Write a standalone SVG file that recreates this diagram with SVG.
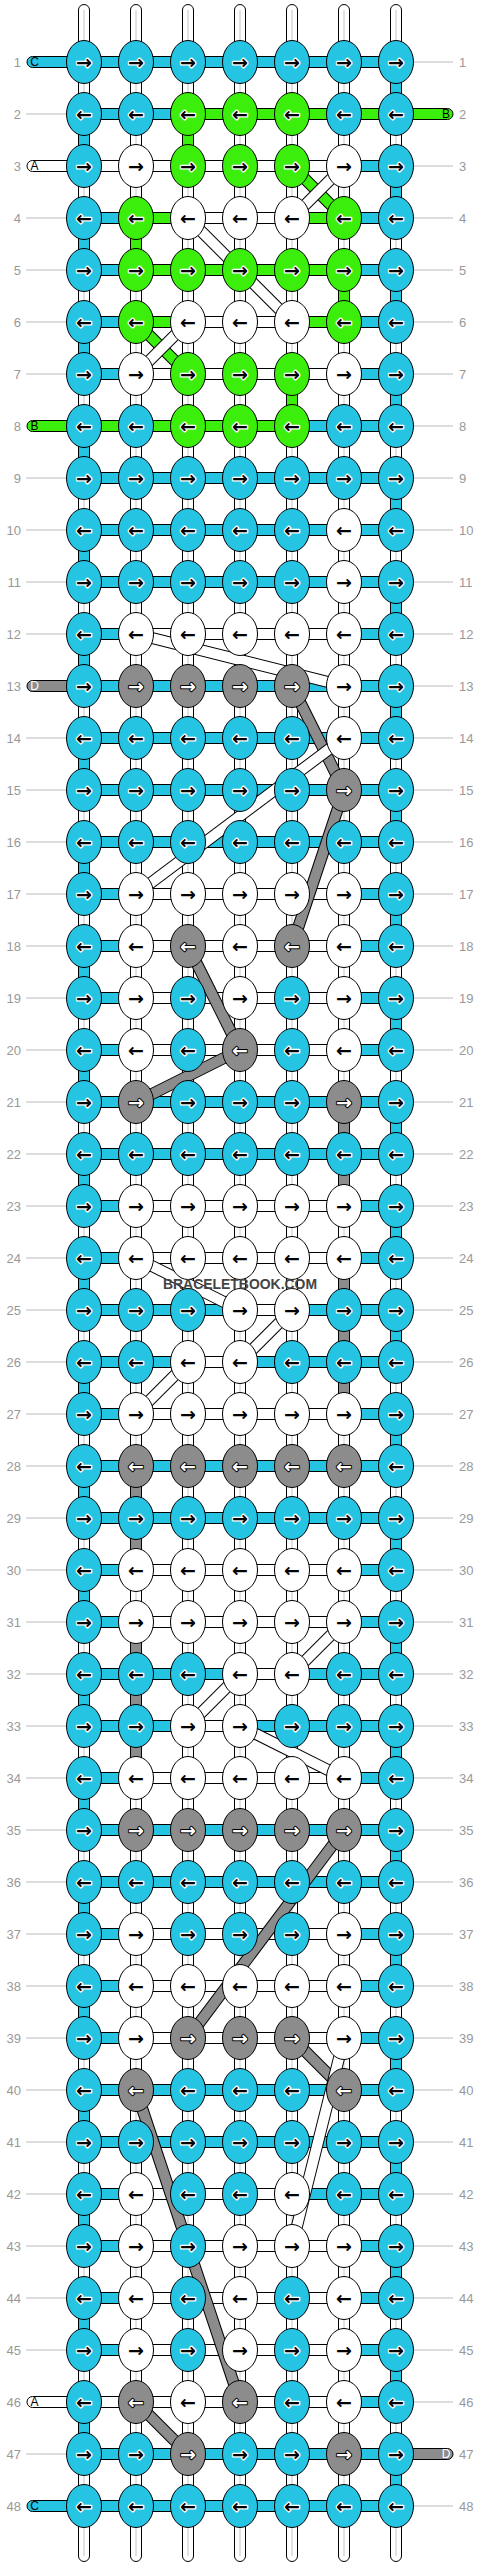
<svg xmlns="http://www.w3.org/2000/svg" width="480" height="2568" viewBox="0 0 480 2568">
<style>
.b{fill:#26c4e3}.w{fill:#fff}.g{fill:#3cee0c}.d{fill:#8c8c8c}
#connectors rect{stroke:#000;stroke-width:1px}
.v{width:11px;height:52px}
.h{height:11px}
.e{height:11px;width:60px}
.cl{stroke:#c4c4c4;stroke-width:1px}
.rl{stroke:#bbb;stroke-width:1px;fill:none}
.o{stroke:#000;stroke-width:12px}
.lw{stroke:#fff;stroke-width:10px}
.lg{stroke:#3cee0c;stroke-width:10px}
.ld{stroke:#8c8c8c;stroke-width:10px}
.k ellipse{rx:17.5px;ry:21.5px;stroke:#000;stroke-width:1px}
.k text{font-family:"DejaVu Sans",sans-serif;font-weight:bold;font-size:19px;text-anchor:middle;dominant-baseline:central;fill:#000;stroke:#fff;stroke-width:2.5px;paint-order:stroke;stroke-linejoin:round}
.k.w text{stroke:none}
.k.d text{fill:#fff;stroke:#000;stroke-width:2px}
.num text{font-family:"Liberation Sans",Arial,sans-serif;font-size:13px;fill:#999}
.nl text{text-anchor:end}
.el text{font-family:"Liberation Sans",Arial,sans-serif;font-size:12px;text-anchor:middle;fill:#000}
.el text.wt{fill:#fff}
.wm{font-family:"Liberation Sans",Arial,sans-serif;font-weight:bold;font-size:15px;fill:#444;text-anchor:middle}
</style>
<g id="connectors">
<g id="columns">
<rect class="w" x="78.5" y="4.5" width="11" height="2557" rx="5.5"/><rect class="w" x="130.5" y="4.5" width="11" height="2557" rx="5.5"/><rect class="w" x="182.5" y="4.5" width="11" height="2557" rx="5.5"/><rect class="w" x="234.5" y="4.5" width="11" height="2557" rx="5.5"/><rect class="w" x="286.5" y="4.5" width="11" height="2557" rx="5.5"/><rect class="w" x="338.5" y="4.5" width="11" height="2557" rx="5.5"/><rect class="w" x="390.5" y="4.5" width="11" height="2557" rx="5.5"/>
<path class="cl" d="M84 10V2556M136 10V2556M188 10V2556M240 10V2556M292 10V2556M344 10V2556M396 10V2556"/>
</g>
<path class="rl" d="M26 114H67M26 218H67M26 270H67M26 322H67M26 374H67M26 478H67M26 530H67M26 582H67M26 634H67M26 738H67M26 790H67M26 842H67M26 894H67M26 946H67M26 998H67M26 1050H67M26 1102H67M26 1154H67M26 1206H67M26 1258H67M26 1310H67M26 1362H67M26 1414H67M26 1466H67M26 1518H67M26 1570H67M26 1622H67M26 1674H67M26 1726H67M26 1778H67M26 1830H67M26 1882H67M26 1934H67M26 1986H67M26 2038H67M26 2090H67M26 2142H67M26 2194H67M26 2246H67M26 2298H67M26 2350H67M26 2454H67M413 62H453M413 166H453M413 218H453M413 270H453M413 322H453M413 374H453M413 426H453M413 478H453M413 530H453M413 582H453M413 634H453M413 686H453M413 738H453M413 790H453M413 842H453M413 894H453M413 946H453M413 998H453M413 1050H453M413 1102H453M413 1154H453M413 1206H453M413 1258H453M413 1310H453M413 1362H453M413 1414H453M413 1466H453M413 1518H453M413 1570H453M413 1622H453M413 1674H453M413 1726H453M413 1778H453M413 1830H453M413 1882H453M413 1934H453M413 1986H453M413 2038H453M413 2090H453M413 2142H453M413 2194H453M413 2246H453M413 2298H453M413 2350H453M413 2402H453M413 2506H453"/>
<g id="verticals">
<rect class="v b" x="390.5" y="62"/>
<rect class="v b" x="78.5" y="114"/><rect class="v g" x="182.5" y="114"/>
<rect class="v b" x="390.5" y="166"/>
<rect class="v b" x="78.5" y="218"/><rect class="v g" x="130.5" y="218"/>
<rect class="v g" x="338.5" y="270"/><rect class="v b" x="390.5" y="270"/>
<rect class="v b" x="78.5" y="322"/>
<rect class="v g" x="286.5" y="374"/><rect class="v b" x="390.5" y="374"/>
<rect class="v b" x="78.5" y="426"/>
<rect class="v b" x="390.5" y="478"/>
<rect class="v b" x="78.5" y="530"/>
<rect class="v b" x="390.5" y="582"/>
<rect class="v b" x="78.5" y="634"/>
<rect class="v b" x="390.5" y="686"/>
<rect class="v b" x="78.5" y="738"/>
<rect class="v b" x="390.5" y="790"/>
<rect class="v b" x="78.5" y="842"/>
<rect class="v b" x="390.5" y="894"/>
<rect class="v b" x="78.5" y="946"/>
<rect class="v b" x="390.5" y="998"/>
<rect class="v b" x="78.5" y="1050"/>
<rect class="v d" x="338.5" y="1102"/><rect class="v b" x="390.5" y="1102"/>
<rect class="v b" x="78.5" y="1154"/><rect class="v d" x="338.5" y="1154"/>
<rect class="v b" x="390.5" y="1206"/>
<rect class="v b" x="78.5" y="1258"/><rect class="v d" x="338.5" y="1258"/>
<rect class="v d" x="338.5" y="1310"/><rect class="v b" x="390.5" y="1310"/>
<rect class="v b" x="78.5" y="1362"/><rect class="v d" x="338.5" y="1362"/>
<rect class="v b" x="390.5" y="1414"/>
<rect class="v b" x="78.5" y="1466"/><rect class="v d" x="130.5" y="1466"/>
<rect class="v d" x="130.5" y="1518"/><rect class="v b" x="390.5" y="1518"/>
<rect class="v b" x="78.5" y="1570"/>
<rect class="v d" x="130.5" y="1622"/><rect class="v b" x="390.5" y="1622"/>
<rect class="v b" x="78.5" y="1674"/><rect class="v d" x="130.5" y="1674"/>
<rect class="v d" x="130.5" y="1726"/><rect class="v b" x="390.5" y="1726"/>
<rect class="v b" x="78.5" y="1778"/>
<rect class="v b" x="390.5" y="1830"/>
<rect class="v b" x="78.5" y="1882"/>
<rect class="v b" x="390.5" y="1934"/>
<rect class="v b" x="78.5" y="1986"/>
<rect class="v b" x="390.5" y="2038"/>
<rect class="v b" x="78.5" y="2090"/>
<rect class="v b" x="390.5" y="2142"/>
<rect class="v b" x="78.5" y="2194"/>
<rect class="v b" x="390.5" y="2246"/>
<rect class="v b" x="78.5" y="2298"/>
<rect class="v b" x="390.5" y="2350"/>
<rect class="v b" x="78.5" y="2402"/>
<rect class="v b" x="390.5" y="2454"/>
</g>
<g id="ends">
<rect class="e b" x="27" y="56.5" rx="5.5"/>
<rect class="e w" x="27" y="160.5" rx="5.5"/>
<rect class="e g" x="27" y="420.5" rx="5.5"/>
<rect class="e d" x="27" y="680.5" rx="5.5"/>
<rect class="e w" x="27" y="2396.5" rx="5.5"/>
<rect class="e b" x="27" y="2500.5" rx="5.5"/>
<rect class="e g" x="393" y="108.5" rx="5.5"/>
<rect class="e d" x="393" y="2448.5" rx="5.5"/>
</g>
<g id="horizontals">
<rect class="h b" x="84" y="56.5" width="312"/>
<rect class="h b" x="84" y="108.5" width="312"/><rect class="h g" x="188" y="108.5" width="208"/>
<rect class="h w" x="84" y="160.5" width="312"/><rect class="h b" x="344" y="160.5" width="52"/>
<rect class="h b" x="84" y="212.5" width="312"/><rect class="h g" x="136" y="212.5" width="208"/><rect class="h w" x="188" y="212.5" width="104"/>
<rect class="h b" x="84" y="264.5" width="312"/><rect class="h g" x="136" y="264.5" width="208"/>
<rect class="h b" x="84" y="316.5" width="312"/><rect class="h g" x="136" y="316.5" width="208"/><rect class="h w" x="188" y="316.5" width="104"/>
<rect class="h b" x="84" y="368.5" width="312"/><rect class="h w" x="136" y="368.5" width="208"/>
<rect class="h b" x="84" y="420.5" width="312"/><rect class="h g" x="84" y="420.5" width="208"/>
<rect class="h b" x="84" y="472.5" width="312"/>
<rect class="h b" x="84" y="524.5" width="312"/>
<rect class="h b" x="84" y="576.5" width="312"/>
<rect class="h b" x="84" y="628.5" width="312"/><rect class="h w" x="136" y="628.5" width="208"/>
<rect class="h b" x="84" y="680.5" width="312"/>
<rect class="h b" x="84" y="732.5" width="312"/>
<rect class="h b" x="84" y="784.5" width="312"/>
<rect class="h b" x="84" y="836.5" width="312"/>
<rect class="h b" x="84" y="888.5" width="312"/><rect class="h w" x="136" y="888.5" width="208"/>
<rect class="h b" x="84" y="940.5" width="312"/><rect class="h w" x="136" y="940.5" width="208"/>
<rect class="h b" x="84" y="992.5" width="312"/><rect class="h w" x="136" y="992.5" width="208"/>
<rect class="h b" x="84" y="1044.5" width="312"/><rect class="h w" x="136" y="1044.5" width="208"/>
<rect class="h b" x="84" y="1096.5" width="312"/>
<rect class="h b" x="84" y="1148.5" width="312"/>
<rect class="h b" x="84" y="1200.5" width="312"/><rect class="h w" x="136" y="1200.5" width="208"/>
<rect class="h b" x="84" y="1252.5" width="312"/><rect class="h w" x="136" y="1252.5" width="208"/>
<rect class="h b" x="84" y="1304.5" width="312"/><rect class="h w" x="240" y="1304.5" width="52"/>
<rect class="h b" x="84" y="1356.5" width="312"/><rect class="h w" x="188" y="1356.5" width="52"/>
<rect class="h b" x="84" y="1408.5" width="312"/><rect class="h w" x="136" y="1408.5" width="208"/>
<rect class="h b" x="84" y="1460.5" width="312"/>
<rect class="h b" x="84" y="1512.5" width="312"/>
<rect class="h b" x="84" y="1564.5" width="312"/><rect class="h w" x="136" y="1564.5" width="208"/>
<rect class="h b" x="84" y="1616.5" width="312"/><rect class="h w" x="136" y="1616.5" width="208"/>
<rect class="h b" x="84" y="1668.5" width="312"/><rect class="h w" x="240" y="1668.5" width="52"/>
<rect class="h b" x="84" y="1720.5" width="312"/><rect class="h w" x="188" y="1720.5" width="52"/>
<rect class="h b" x="84" y="1772.5" width="312"/><rect class="h w" x="136" y="1772.5" width="208"/>
<rect class="h b" x="84" y="1824.5" width="312"/>
<rect class="h b" x="84" y="1876.5" width="312"/>
<rect class="h b" x="84" y="1928.5" width="312"/><rect class="h w" x="136" y="1928.5" width="208"/>
<rect class="h b" x="84" y="1980.5" width="312"/><rect class="h w" x="136" y="1980.5" width="208"/>
<rect class="h b" x="84" y="2032.5" width="312"/><rect class="h w" x="136" y="2032.5" width="208"/>
<rect class="h b" x="84" y="2084.5" width="312"/>
<rect class="h b" x="84" y="2136.5" width="312"/>
<rect class="h b" x="84" y="2188.5" width="312"/><rect class="h w" x="136" y="2188.5" width="156"/>
<rect class="h b" x="84" y="2240.5" width="312"/><rect class="h w" x="136" y="2240.5" width="208"/>
<rect class="h b" x="84" y="2292.5" width="312"/><rect class="h w" x="136" y="2292.5" width="208"/>
<rect class="h b" x="84" y="2344.5" width="312"/><rect class="h w" x="136" y="2344.5" width="208"/>
<rect class="h b" x="84" y="2396.5" width="312"/><rect class="h w" x="84" y="2396.5" width="260"/>
<rect class="h b" x="84" y="2448.5" width="312"/>
<rect class="h b" x="84" y="2500.5" width="312"/>
</g>
<g id="diagonals">
<line class="o" x1="292" y1="166" x2="344" y2="218"/><line class="lg" x1="292" y1="166" x2="344" y2="218"/>
<line class="o" x1="344" y1="166" x2="292" y2="218"/><line class="lw" x1="344" y1="166" x2="292" y2="218"/>
<line class="o" x1="188" y1="218" x2="240" y2="270"/><line class="lw" x1="188" y1="218" x2="240" y2="270"/>
<line class="o" x1="240" y1="270" x2="292" y2="322"/><line class="lw" x1="240" y1="270" x2="292" y2="322"/>
<line class="o" x1="136" y1="322" x2="188" y2="374"/><line class="lg" x1="136" y1="322" x2="188" y2="374"/>
<line class="o" x1="188" y1="322" x2="136" y2="374"/><line class="lw" x1="188" y1="322" x2="136" y2="374"/>
<line class="o" x1="136" y1="634" x2="344" y2="686"/><line class="lw" x1="136" y1="634" x2="344" y2="686"/>
<line class="o" x1="292" y1="686" x2="344" y2="790"/><line class="ld" x1="292" y1="686" x2="344" y2="790"/>
<line class="o" x1="344" y1="738" x2="136" y2="894"/><line class="lw" x1="344" y1="738" x2="136" y2="894"/>
<line class="o" x1="344" y1="790" x2="292" y2="946"/><line class="ld" x1="344" y1="790" x2="292" y2="946"/>
<line class="o" x1="188" y1="946" x2="240" y2="1050"/><line class="ld" x1="188" y1="946" x2="240" y2="1050"/>
<line class="o" x1="240" y1="1050" x2="136" y2="1102"/><line class="ld" x1="240" y1="1050" x2="136" y2="1102"/>
<line class="o" x1="136" y1="1258" x2="240" y2="1310"/><line class="lw" x1="136" y1="1258" x2="240" y2="1310"/>
<line class="o" x1="292" y1="1310" x2="240" y2="1362"/><line class="lw" x1="292" y1="1310" x2="240" y2="1362"/>
<line class="o" x1="188" y1="1362" x2="136" y2="1414"/><line class="lw" x1="188" y1="1362" x2="136" y2="1414"/>
<line class="o" x1="344" y1="1622" x2="292" y2="1674"/><line class="lw" x1="344" y1="1622" x2="292" y2="1674"/>
<line class="o" x1="240" y1="1674" x2="188" y2="1726"/><line class="lw" x1="240" y1="1674" x2="188" y2="1726"/>
<line class="o" x1="240" y1="1726" x2="344" y2="1778"/><line class="lw" x1="240" y1="1726" x2="344" y2="1778"/>
<line class="o" x1="344" y1="1830" x2="188" y2="2038"/><line class="ld" x1="344" y1="1830" x2="188" y2="2038"/>
<line class="o" x1="292" y1="2038" x2="344" y2="2090"/><line class="ld" x1="292" y1="2038" x2="344" y2="2090"/>
<line class="o" x1="344" y1="2038" x2="292" y2="2246"/><line class="lw" x1="344" y1="2038" x2="292" y2="2246"/>
<line class="o" x1="136" y1="2090" x2="240" y2="2402"/><line class="ld" x1="136" y1="2090" x2="240" y2="2402"/>
<line class="o" x1="136" y1="2402" x2="188" y2="2454"/><line class="ld" x1="136" y1="2402" x2="188" y2="2454"/>
</g>
</g>
<g id="knots">
<g id="k1-1" class="k b" transform="translate(84 62)"><ellipse/><text>→</text></g><g id="k1-2" class="k b" transform="translate(136 62)"><ellipse/><text>→</text></g><g id="k1-3" class="k b" transform="translate(188 62)"><ellipse/><text>→</text></g><g id="k1-4" class="k b" transform="translate(240 62)"><ellipse/><text>→</text></g><g id="k1-5" class="k b" transform="translate(292 62)"><ellipse/><text>→</text></g><g id="k1-6" class="k b" transform="translate(344 62)"><ellipse/><text>→</text></g><g id="k1-7" class="k b" transform="translate(396 62)"><ellipse/><text>→</text></g>
<g id="k2-1" class="k b" transform="translate(84 114)"><ellipse/><text>←</text></g><g id="k2-2" class="k b" transform="translate(136 114)"><ellipse/><text>←</text></g><g id="k2-3" class="k g" transform="translate(188 114)"><ellipse/><text>←</text></g><g id="k2-4" class="k g" transform="translate(240 114)"><ellipse/><text>←</text></g><g id="k2-5" class="k g" transform="translate(292 114)"><ellipse/><text>←</text></g><g id="k2-6" class="k b" transform="translate(344 114)"><ellipse/><text>←</text></g><g id="k2-7" class="k b" transform="translate(396 114)"><ellipse/><text>←</text></g>
<g id="k3-1" class="k b" transform="translate(84 166)"><ellipse/><text>→</text></g><g id="k3-2" class="k w" transform="translate(136 166)"><ellipse/><text>→</text></g><g id="k3-3" class="k g" transform="translate(188 166)"><ellipse/><text>→</text></g><g id="k3-4" class="k g" transform="translate(240 166)"><ellipse/><text>→</text></g><g id="k3-5" class="k g" transform="translate(292 166)"><ellipse/><text>→</text></g><g id="k3-6" class="k w" transform="translate(344 166)"><ellipse/><text>→</text></g><g id="k3-7" class="k b" transform="translate(396 166)"><ellipse/><text>→</text></g>
<g id="k4-1" class="k b" transform="translate(84 218)"><ellipse/><text>←</text></g><g id="k4-2" class="k g" transform="translate(136 218)"><ellipse/><text>←</text></g><g id="k4-3" class="k w" transform="translate(188 218)"><ellipse/><text>←</text></g><g id="k4-4" class="k w" transform="translate(240 218)"><ellipse/><text>←</text></g><g id="k4-5" class="k w" transform="translate(292 218)"><ellipse/><text>←</text></g><g id="k4-6" class="k g" transform="translate(344 218)"><ellipse/><text>←</text></g><g id="k4-7" class="k b" transform="translate(396 218)"><ellipse/><text>←</text></g>
<g id="k5-1" class="k b" transform="translate(84 270)"><ellipse/><text>→</text></g><g id="k5-2" class="k g" transform="translate(136 270)"><ellipse/><text>→</text></g><g id="k5-3" class="k g" transform="translate(188 270)"><ellipse/><text>→</text></g><g id="k5-4" class="k g" transform="translate(240 270)"><ellipse/><text>→</text></g><g id="k5-5" class="k g" transform="translate(292 270)"><ellipse/><text>→</text></g><g id="k5-6" class="k g" transform="translate(344 270)"><ellipse/><text>→</text></g><g id="k5-7" class="k b" transform="translate(396 270)"><ellipse/><text>→</text></g>
<g id="k6-1" class="k b" transform="translate(84 322)"><ellipse/><text>←</text></g><g id="k6-2" class="k g" transform="translate(136 322)"><ellipse/><text>←</text></g><g id="k6-3" class="k w" transform="translate(188 322)"><ellipse/><text>←</text></g><g id="k6-4" class="k w" transform="translate(240 322)"><ellipse/><text>←</text></g><g id="k6-5" class="k w" transform="translate(292 322)"><ellipse/><text>←</text></g><g id="k6-6" class="k g" transform="translate(344 322)"><ellipse/><text>←</text></g><g id="k6-7" class="k b" transform="translate(396 322)"><ellipse/><text>←</text></g>
<g id="k7-1" class="k b" transform="translate(84 374)"><ellipse/><text>→</text></g><g id="k7-2" class="k w" transform="translate(136 374)"><ellipse/><text>→</text></g><g id="k7-3" class="k g" transform="translate(188 374)"><ellipse/><text>→</text></g><g id="k7-4" class="k g" transform="translate(240 374)"><ellipse/><text>→</text></g><g id="k7-5" class="k g" transform="translate(292 374)"><ellipse/><text>→</text></g><g id="k7-6" class="k w" transform="translate(344 374)"><ellipse/><text>→</text></g><g id="k7-7" class="k b" transform="translate(396 374)"><ellipse/><text>→</text></g>
<g id="k8-1" class="k b" transform="translate(84 426)"><ellipse/><text>←</text></g><g id="k8-2" class="k b" transform="translate(136 426)"><ellipse/><text>←</text></g><g id="k8-3" class="k g" transform="translate(188 426)"><ellipse/><text>←</text></g><g id="k8-4" class="k g" transform="translate(240 426)"><ellipse/><text>←</text></g><g id="k8-5" class="k g" transform="translate(292 426)"><ellipse/><text>←</text></g><g id="k8-6" class="k b" transform="translate(344 426)"><ellipse/><text>←</text></g><g id="k8-7" class="k b" transform="translate(396 426)"><ellipse/><text>←</text></g>
<g id="k9-1" class="k b" transform="translate(84 478)"><ellipse/><text>→</text></g><g id="k9-2" class="k b" transform="translate(136 478)"><ellipse/><text>→</text></g><g id="k9-3" class="k b" transform="translate(188 478)"><ellipse/><text>→</text></g><g id="k9-4" class="k b" transform="translate(240 478)"><ellipse/><text>→</text></g><g id="k9-5" class="k b" transform="translate(292 478)"><ellipse/><text>→</text></g><g id="k9-6" class="k b" transform="translate(344 478)"><ellipse/><text>→</text></g><g id="k9-7" class="k b" transform="translate(396 478)"><ellipse/><text>→</text></g>
<g id="k10-1" class="k b" transform="translate(84 530)"><ellipse/><text>←</text></g><g id="k10-2" class="k b" transform="translate(136 530)"><ellipse/><text>←</text></g><g id="k10-3" class="k b" transform="translate(188 530)"><ellipse/><text>←</text></g><g id="k10-4" class="k b" transform="translate(240 530)"><ellipse/><text>←</text></g><g id="k10-5" class="k b" transform="translate(292 530)"><ellipse/><text>←</text></g><g id="k10-6" class="k w" transform="translate(344 530)"><ellipse/><text>←</text></g><g id="k10-7" class="k b" transform="translate(396 530)"><ellipse/><text>←</text></g>
<g id="k11-1" class="k b" transform="translate(84 582)"><ellipse/><text>→</text></g><g id="k11-2" class="k b" transform="translate(136 582)"><ellipse/><text>→</text></g><g id="k11-3" class="k b" transform="translate(188 582)"><ellipse/><text>→</text></g><g id="k11-4" class="k b" transform="translate(240 582)"><ellipse/><text>→</text></g><g id="k11-5" class="k b" transform="translate(292 582)"><ellipse/><text>→</text></g><g id="k11-6" class="k w" transform="translate(344 582)"><ellipse/><text>→</text></g><g id="k11-7" class="k b" transform="translate(396 582)"><ellipse/><text>→</text></g>
<g id="k12-1" class="k b" transform="translate(84 634)"><ellipse/><text>←</text></g><g id="k12-2" class="k w" transform="translate(136 634)"><ellipse/><text>←</text></g><g id="k12-3" class="k w" transform="translate(188 634)"><ellipse/><text>←</text></g><g id="k12-4" class="k w" transform="translate(240 634)"><ellipse/><text>←</text></g><g id="k12-5" class="k w" transform="translate(292 634)"><ellipse/><text>←</text></g><g id="k12-6" class="k w" transform="translate(344 634)"><ellipse/><text>←</text></g><g id="k12-7" class="k b" transform="translate(396 634)"><ellipse/><text>←</text></g>
<g id="k13-1" class="k b" transform="translate(84 686)"><ellipse/><text>→</text></g><g id="k13-2" class="k d" transform="translate(136 686)"><ellipse/><text>→</text></g><g id="k13-3" class="k d" transform="translate(188 686)"><ellipse/><text>→</text></g><g id="k13-4" class="k d" transform="translate(240 686)"><ellipse/><text>→</text></g><g id="k13-5" class="k d" transform="translate(292 686)"><ellipse/><text>→</text></g><g id="k13-6" class="k w" transform="translate(344 686)"><ellipse/><text>→</text></g><g id="k13-7" class="k b" transform="translate(396 686)"><ellipse/><text>→</text></g>
<g id="k14-1" class="k b" transform="translate(84 738)"><ellipse/><text>←</text></g><g id="k14-2" class="k b" transform="translate(136 738)"><ellipse/><text>←</text></g><g id="k14-3" class="k b" transform="translate(188 738)"><ellipse/><text>←</text></g><g id="k14-4" class="k b" transform="translate(240 738)"><ellipse/><text>←</text></g><g id="k14-5" class="k b" transform="translate(292 738)"><ellipse/><text>←</text></g><g id="k14-6" class="k w" transform="translate(344 738)"><ellipse/><text>←</text></g><g id="k14-7" class="k b" transform="translate(396 738)"><ellipse/><text>←</text></g>
<g id="k15-1" class="k b" transform="translate(84 790)"><ellipse/><text>→</text></g><g id="k15-2" class="k b" transform="translate(136 790)"><ellipse/><text>→</text></g><g id="k15-3" class="k b" transform="translate(188 790)"><ellipse/><text>→</text></g><g id="k15-4" class="k b" transform="translate(240 790)"><ellipse/><text>→</text></g><g id="k15-5" class="k b" transform="translate(292 790)"><ellipse/><text>→</text></g><g id="k15-6" class="k d" transform="translate(344 790)"><ellipse/><text>→</text></g><g id="k15-7" class="k b" transform="translate(396 790)"><ellipse/><text>→</text></g>
<g id="k16-1" class="k b" transform="translate(84 842)"><ellipse/><text>←</text></g><g id="k16-2" class="k b" transform="translate(136 842)"><ellipse/><text>←</text></g><g id="k16-3" class="k b" transform="translate(188 842)"><ellipse/><text>←</text></g><g id="k16-4" class="k b" transform="translate(240 842)"><ellipse/><text>←</text></g><g id="k16-5" class="k b" transform="translate(292 842)"><ellipse/><text>←</text></g><g id="k16-6" class="k b" transform="translate(344 842)"><ellipse/><text>←</text></g><g id="k16-7" class="k b" transform="translate(396 842)"><ellipse/><text>←</text></g>
<g id="k17-1" class="k b" transform="translate(84 894)"><ellipse/><text>→</text></g><g id="k17-2" class="k w" transform="translate(136 894)"><ellipse/><text>→</text></g><g id="k17-3" class="k w" transform="translate(188 894)"><ellipse/><text>→</text></g><g id="k17-4" class="k w" transform="translate(240 894)"><ellipse/><text>→</text></g><g id="k17-5" class="k w" transform="translate(292 894)"><ellipse/><text>→</text></g><g id="k17-6" class="k w" transform="translate(344 894)"><ellipse/><text>→</text></g><g id="k17-7" class="k b" transform="translate(396 894)"><ellipse/><text>→</text></g>
<g id="k18-1" class="k b" transform="translate(84 946)"><ellipse/><text>←</text></g><g id="k18-2" class="k w" transform="translate(136 946)"><ellipse/><text>←</text></g><g id="k18-3" class="k d" transform="translate(188 946)"><ellipse/><text>←</text></g><g id="k18-4" class="k w" transform="translate(240 946)"><ellipse/><text>←</text></g><g id="k18-5" class="k d" transform="translate(292 946)"><ellipse/><text>←</text></g><g id="k18-6" class="k w" transform="translate(344 946)"><ellipse/><text>←</text></g><g id="k18-7" class="k b" transform="translate(396 946)"><ellipse/><text>←</text></g>
<g id="k19-1" class="k b" transform="translate(84 998)"><ellipse/><text>→</text></g><g id="k19-2" class="k w" transform="translate(136 998)"><ellipse/><text>→</text></g><g id="k19-3" class="k b" transform="translate(188 998)"><ellipse/><text>→</text></g><g id="k19-4" class="k w" transform="translate(240 998)"><ellipse/><text>→</text></g><g id="k19-5" class="k b" transform="translate(292 998)"><ellipse/><text>→</text></g><g id="k19-6" class="k w" transform="translate(344 998)"><ellipse/><text>→</text></g><g id="k19-7" class="k b" transform="translate(396 998)"><ellipse/><text>→</text></g>
<g id="k20-1" class="k b" transform="translate(84 1050)"><ellipse/><text>←</text></g><g id="k20-2" class="k w" transform="translate(136 1050)"><ellipse/><text>←</text></g><g id="k20-3" class="k b" transform="translate(188 1050)"><ellipse/><text>←</text></g><g id="k20-4" class="k d" transform="translate(240 1050)"><ellipse/><text>←</text></g><g id="k20-5" class="k b" transform="translate(292 1050)"><ellipse/><text>←</text></g><g id="k20-6" class="k w" transform="translate(344 1050)"><ellipse/><text>←</text></g><g id="k20-7" class="k b" transform="translate(396 1050)"><ellipse/><text>←</text></g>
<g id="k21-1" class="k b" transform="translate(84 1102)"><ellipse/><text>→</text></g><g id="k21-2" class="k d" transform="translate(136 1102)"><ellipse/><text>→</text></g><g id="k21-3" class="k b" transform="translate(188 1102)"><ellipse/><text>→</text></g><g id="k21-4" class="k b" transform="translate(240 1102)"><ellipse/><text>→</text></g><g id="k21-5" class="k b" transform="translate(292 1102)"><ellipse/><text>→</text></g><g id="k21-6" class="k d" transform="translate(344 1102)"><ellipse/><text>→</text></g><g id="k21-7" class="k b" transform="translate(396 1102)"><ellipse/><text>→</text></g>
<g id="k22-1" class="k b" transform="translate(84 1154)"><ellipse/><text>←</text></g><g id="k22-2" class="k b" transform="translate(136 1154)"><ellipse/><text>←</text></g><g id="k22-3" class="k b" transform="translate(188 1154)"><ellipse/><text>←</text></g><g id="k22-4" class="k b" transform="translate(240 1154)"><ellipse/><text>←</text></g><g id="k22-5" class="k b" transform="translate(292 1154)"><ellipse/><text>←</text></g><g id="k22-6" class="k b" transform="translate(344 1154)"><ellipse/><text>←</text></g><g id="k22-7" class="k b" transform="translate(396 1154)"><ellipse/><text>←</text></g>
<g id="k23-1" class="k b" transform="translate(84 1206)"><ellipse/><text>→</text></g><g id="k23-2" class="k w" transform="translate(136 1206)"><ellipse/><text>→</text></g><g id="k23-3" class="k w" transform="translate(188 1206)"><ellipse/><text>→</text></g><g id="k23-4" class="k w" transform="translate(240 1206)"><ellipse/><text>→</text></g><g id="k23-5" class="k w" transform="translate(292 1206)"><ellipse/><text>→</text></g><g id="k23-6" class="k w" transform="translate(344 1206)"><ellipse/><text>→</text></g><g id="k23-7" class="k b" transform="translate(396 1206)"><ellipse/><text>→</text></g>
<g id="k24-1" class="k b" transform="translate(84 1258)"><ellipse/><text>←</text></g><g id="k24-2" class="k w" transform="translate(136 1258)"><ellipse/><text>←</text></g><g id="k24-3" class="k w" transform="translate(188 1258)"><ellipse/><text>←</text></g><g id="k24-4" class="k w" transform="translate(240 1258)"><ellipse/><text>←</text></g><g id="k24-5" class="k w" transform="translate(292 1258)"><ellipse/><text>←</text></g><g id="k24-6" class="k w" transform="translate(344 1258)"><ellipse/><text>←</text></g><g id="k24-7" class="k b" transform="translate(396 1258)"><ellipse/><text>←</text></g>
<g id="k25-1" class="k b" transform="translate(84 1310)"><ellipse/><text>→</text></g><g id="k25-2" class="k b" transform="translate(136 1310)"><ellipse/><text>→</text></g><g id="k25-3" class="k b" transform="translate(188 1310)"><ellipse/><text>→</text></g><g id="k25-4" class="k w" transform="translate(240 1310)"><ellipse/><text>→</text></g><g id="k25-5" class="k w" transform="translate(292 1310)"><ellipse/><text>→</text></g><g id="k25-6" class="k b" transform="translate(344 1310)"><ellipse/><text>→</text></g><g id="k25-7" class="k b" transform="translate(396 1310)"><ellipse/><text>→</text></g>
<g id="k26-1" class="k b" transform="translate(84 1362)"><ellipse/><text>←</text></g><g id="k26-2" class="k b" transform="translate(136 1362)"><ellipse/><text>←</text></g><g id="k26-3" class="k w" transform="translate(188 1362)"><ellipse/><text>←</text></g><g id="k26-4" class="k w" transform="translate(240 1362)"><ellipse/><text>←</text></g><g id="k26-5" class="k b" transform="translate(292 1362)"><ellipse/><text>←</text></g><g id="k26-6" class="k b" transform="translate(344 1362)"><ellipse/><text>←</text></g><g id="k26-7" class="k b" transform="translate(396 1362)"><ellipse/><text>←</text></g>
<g id="k27-1" class="k b" transform="translate(84 1414)"><ellipse/><text>→</text></g><g id="k27-2" class="k w" transform="translate(136 1414)"><ellipse/><text>→</text></g><g id="k27-3" class="k w" transform="translate(188 1414)"><ellipse/><text>→</text></g><g id="k27-4" class="k w" transform="translate(240 1414)"><ellipse/><text>→</text></g><g id="k27-5" class="k w" transform="translate(292 1414)"><ellipse/><text>→</text></g><g id="k27-6" class="k w" transform="translate(344 1414)"><ellipse/><text>→</text></g><g id="k27-7" class="k b" transform="translate(396 1414)"><ellipse/><text>→</text></g>
<g id="k28-1" class="k b" transform="translate(84 1466)"><ellipse/><text>←</text></g><g id="k28-2" class="k d" transform="translate(136 1466)"><ellipse/><text>←</text></g><g id="k28-3" class="k d" transform="translate(188 1466)"><ellipse/><text>←</text></g><g id="k28-4" class="k d" transform="translate(240 1466)"><ellipse/><text>←</text></g><g id="k28-5" class="k d" transform="translate(292 1466)"><ellipse/><text>←</text></g><g id="k28-6" class="k d" transform="translate(344 1466)"><ellipse/><text>←</text></g><g id="k28-7" class="k b" transform="translate(396 1466)"><ellipse/><text>←</text></g>
<g id="k29-1" class="k b" transform="translate(84 1518)"><ellipse/><text>→</text></g><g id="k29-2" class="k b" transform="translate(136 1518)"><ellipse/><text>→</text></g><g id="k29-3" class="k b" transform="translate(188 1518)"><ellipse/><text>→</text></g><g id="k29-4" class="k b" transform="translate(240 1518)"><ellipse/><text>→</text></g><g id="k29-5" class="k b" transform="translate(292 1518)"><ellipse/><text>→</text></g><g id="k29-6" class="k b" transform="translate(344 1518)"><ellipse/><text>→</text></g><g id="k29-7" class="k b" transform="translate(396 1518)"><ellipse/><text>→</text></g>
<g id="k30-1" class="k b" transform="translate(84 1570)"><ellipse/><text>←</text></g><g id="k30-2" class="k w" transform="translate(136 1570)"><ellipse/><text>←</text></g><g id="k30-3" class="k w" transform="translate(188 1570)"><ellipse/><text>←</text></g><g id="k30-4" class="k w" transform="translate(240 1570)"><ellipse/><text>←</text></g><g id="k30-5" class="k w" transform="translate(292 1570)"><ellipse/><text>←</text></g><g id="k30-6" class="k w" transform="translate(344 1570)"><ellipse/><text>←</text></g><g id="k30-7" class="k b" transform="translate(396 1570)"><ellipse/><text>←</text></g>
<g id="k31-1" class="k b" transform="translate(84 1622)"><ellipse/><text>→</text></g><g id="k31-2" class="k w" transform="translate(136 1622)"><ellipse/><text>→</text></g><g id="k31-3" class="k w" transform="translate(188 1622)"><ellipse/><text>→</text></g><g id="k31-4" class="k w" transform="translate(240 1622)"><ellipse/><text>→</text></g><g id="k31-5" class="k w" transform="translate(292 1622)"><ellipse/><text>→</text></g><g id="k31-6" class="k w" transform="translate(344 1622)"><ellipse/><text>→</text></g><g id="k31-7" class="k b" transform="translate(396 1622)"><ellipse/><text>→</text></g>
<g id="k32-1" class="k b" transform="translate(84 1674)"><ellipse/><text>←</text></g><g id="k32-2" class="k b" transform="translate(136 1674)"><ellipse/><text>←</text></g><g id="k32-3" class="k b" transform="translate(188 1674)"><ellipse/><text>←</text></g><g id="k32-4" class="k w" transform="translate(240 1674)"><ellipse/><text>←</text></g><g id="k32-5" class="k w" transform="translate(292 1674)"><ellipse/><text>←</text></g><g id="k32-6" class="k b" transform="translate(344 1674)"><ellipse/><text>←</text></g><g id="k32-7" class="k b" transform="translate(396 1674)"><ellipse/><text>←</text></g>
<g id="k33-1" class="k b" transform="translate(84 1726)"><ellipse/><text>→</text></g><g id="k33-2" class="k b" transform="translate(136 1726)"><ellipse/><text>→</text></g><g id="k33-3" class="k w" transform="translate(188 1726)"><ellipse/><text>→</text></g><g id="k33-4" class="k w" transform="translate(240 1726)"><ellipse/><text>→</text></g><g id="k33-5" class="k b" transform="translate(292 1726)"><ellipse/><text>→</text></g><g id="k33-6" class="k b" transform="translate(344 1726)"><ellipse/><text>→</text></g><g id="k33-7" class="k b" transform="translate(396 1726)"><ellipse/><text>→</text></g>
<g id="k34-1" class="k b" transform="translate(84 1778)"><ellipse/><text>←</text></g><g id="k34-2" class="k w" transform="translate(136 1778)"><ellipse/><text>←</text></g><g id="k34-3" class="k w" transform="translate(188 1778)"><ellipse/><text>←</text></g><g id="k34-4" class="k w" transform="translate(240 1778)"><ellipse/><text>←</text></g><g id="k34-5" class="k w" transform="translate(292 1778)"><ellipse/><text>←</text></g><g id="k34-6" class="k w" transform="translate(344 1778)"><ellipse/><text>←</text></g><g id="k34-7" class="k b" transform="translate(396 1778)"><ellipse/><text>←</text></g>
<g id="k35-1" class="k b" transform="translate(84 1830)"><ellipse/><text>→</text></g><g id="k35-2" class="k d" transform="translate(136 1830)"><ellipse/><text>→</text></g><g id="k35-3" class="k d" transform="translate(188 1830)"><ellipse/><text>→</text></g><g id="k35-4" class="k d" transform="translate(240 1830)"><ellipse/><text>→</text></g><g id="k35-5" class="k d" transform="translate(292 1830)"><ellipse/><text>→</text></g><g id="k35-6" class="k d" transform="translate(344 1830)"><ellipse/><text>→</text></g><g id="k35-7" class="k b" transform="translate(396 1830)"><ellipse/><text>→</text></g>
<g id="k36-1" class="k b" transform="translate(84 1882)"><ellipse/><text>←</text></g><g id="k36-2" class="k b" transform="translate(136 1882)"><ellipse/><text>←</text></g><g id="k36-3" class="k b" transform="translate(188 1882)"><ellipse/><text>←</text></g><g id="k36-4" class="k b" transform="translate(240 1882)"><ellipse/><text>←</text></g><g id="k36-5" class="k b" transform="translate(292 1882)"><ellipse/><text>←</text></g><g id="k36-6" class="k b" transform="translate(344 1882)"><ellipse/><text>←</text></g><g id="k36-7" class="k b" transform="translate(396 1882)"><ellipse/><text>←</text></g>
<g id="k37-1" class="k b" transform="translate(84 1934)"><ellipse/><text>→</text></g><g id="k37-2" class="k w" transform="translate(136 1934)"><ellipse/><text>→</text></g><g id="k37-3" class="k b" transform="translate(188 1934)"><ellipse/><text>→</text></g><g id="k37-4" class="k b" transform="translate(240 1934)"><ellipse/><text>→</text></g><g id="k37-5" class="k b" transform="translate(292 1934)"><ellipse/><text>→</text></g><g id="k37-6" class="k w" transform="translate(344 1934)"><ellipse/><text>→</text></g><g id="k37-7" class="k b" transform="translate(396 1934)"><ellipse/><text>→</text></g>
<g id="k38-1" class="k b" transform="translate(84 1986)"><ellipse/><text>←</text></g><g id="k38-2" class="k w" transform="translate(136 1986)"><ellipse/><text>←</text></g><g id="k38-3" class="k w" transform="translate(188 1986)"><ellipse/><text>←</text></g><g id="k38-4" class="k w" transform="translate(240 1986)"><ellipse/><text>←</text></g><g id="k38-5" class="k w" transform="translate(292 1986)"><ellipse/><text>←</text></g><g id="k38-6" class="k w" transform="translate(344 1986)"><ellipse/><text>←</text></g><g id="k38-7" class="k b" transform="translate(396 1986)"><ellipse/><text>←</text></g>
<g id="k39-1" class="k b" transform="translate(84 2038)"><ellipse/><text>→</text></g><g id="k39-2" class="k w" transform="translate(136 2038)"><ellipse/><text>→</text></g><g id="k39-3" class="k d" transform="translate(188 2038)"><ellipse/><text>→</text></g><g id="k39-4" class="k d" transform="translate(240 2038)"><ellipse/><text>→</text></g><g id="k39-5" class="k d" transform="translate(292 2038)"><ellipse/><text>→</text></g><g id="k39-6" class="k w" transform="translate(344 2038)"><ellipse/><text>→</text></g><g id="k39-7" class="k b" transform="translate(396 2038)"><ellipse/><text>→</text></g>
<g id="k40-1" class="k b" transform="translate(84 2090)"><ellipse/><text>←</text></g><g id="k40-2" class="k d" transform="translate(136 2090)"><ellipse/><text>←</text></g><g id="k40-3" class="k b" transform="translate(188 2090)"><ellipse/><text>←</text></g><g id="k40-4" class="k b" transform="translate(240 2090)"><ellipse/><text>←</text></g><g id="k40-5" class="k b" transform="translate(292 2090)"><ellipse/><text>←</text></g><g id="k40-6" class="k d" transform="translate(344 2090)"><ellipse/><text>←</text></g><g id="k40-7" class="k b" transform="translate(396 2090)"><ellipse/><text>←</text></g>
<g id="k41-1" class="k b" transform="translate(84 2142)"><ellipse/><text>→</text></g><g id="k41-2" class="k b" transform="translate(136 2142)"><ellipse/><text>→</text></g><g id="k41-3" class="k b" transform="translate(188 2142)"><ellipse/><text>→</text></g><g id="k41-4" class="k b" transform="translate(240 2142)"><ellipse/><text>→</text></g><g id="k41-5" class="k b" transform="translate(292 2142)"><ellipse/><text>→</text></g><g id="k41-6" class="k b" transform="translate(344 2142)"><ellipse/><text>→</text></g><g id="k41-7" class="k b" transform="translate(396 2142)"><ellipse/><text>→</text></g>
<g id="k42-1" class="k b" transform="translate(84 2194)"><ellipse/><text>←</text></g><g id="k42-2" class="k w" transform="translate(136 2194)"><ellipse/><text>←</text></g><g id="k42-3" class="k b" transform="translate(188 2194)"><ellipse/><text>←</text></g><g id="k42-4" class="k b" transform="translate(240 2194)"><ellipse/><text>←</text></g><g id="k42-5" class="k w" transform="translate(292 2194)"><ellipse/><text>←</text></g><g id="k42-6" class="k b" transform="translate(344 2194)"><ellipse/><text>←</text></g><g id="k42-7" class="k b" transform="translate(396 2194)"><ellipse/><text>←</text></g>
<g id="k43-1" class="k b" transform="translate(84 2246)"><ellipse/><text>→</text></g><g id="k43-2" class="k w" transform="translate(136 2246)"><ellipse/><text>→</text></g><g id="k43-3" class="k b" transform="translate(188 2246)"><ellipse/><text>→</text></g><g id="k43-4" class="k w" transform="translate(240 2246)"><ellipse/><text>→</text></g><g id="k43-5" class="k w" transform="translate(292 2246)"><ellipse/><text>→</text></g><g id="k43-6" class="k w" transform="translate(344 2246)"><ellipse/><text>→</text></g><g id="k43-7" class="k b" transform="translate(396 2246)"><ellipse/><text>→</text></g>
<g id="k44-1" class="k b" transform="translate(84 2298)"><ellipse/><text>←</text></g><g id="k44-2" class="k w" transform="translate(136 2298)"><ellipse/><text>←</text></g><g id="k44-3" class="k b" transform="translate(188 2298)"><ellipse/><text>←</text></g><g id="k44-4" class="k w" transform="translate(240 2298)"><ellipse/><text>←</text></g><g id="k44-5" class="k b" transform="translate(292 2298)"><ellipse/><text>←</text></g><g id="k44-6" class="k w" transform="translate(344 2298)"><ellipse/><text>←</text></g><g id="k44-7" class="k b" transform="translate(396 2298)"><ellipse/><text>←</text></g>
<g id="k45-1" class="k b" transform="translate(84 2350)"><ellipse/><text>→</text></g><g id="k45-2" class="k w" transform="translate(136 2350)"><ellipse/><text>→</text></g><g id="k45-3" class="k b" transform="translate(188 2350)"><ellipse/><text>→</text></g><g id="k45-4" class="k w" transform="translate(240 2350)"><ellipse/><text>→</text></g><g id="k45-5" class="k b" transform="translate(292 2350)"><ellipse/><text>→</text></g><g id="k45-6" class="k w" transform="translate(344 2350)"><ellipse/><text>→</text></g><g id="k45-7" class="k b" transform="translate(396 2350)"><ellipse/><text>→</text></g>
<g id="k46-1" class="k b" transform="translate(84 2402)"><ellipse/><text>←</text></g><g id="k46-2" class="k d" transform="translate(136 2402)"><ellipse/><text>←</text></g><g id="k46-3" class="k w" transform="translate(188 2402)"><ellipse/><text>←</text></g><g id="k46-4" class="k d" transform="translate(240 2402)"><ellipse/><text>←</text></g><g id="k46-5" class="k b" transform="translate(292 2402)"><ellipse/><text>←</text></g><g id="k46-6" class="k w" transform="translate(344 2402)"><ellipse/><text>←</text></g><g id="k46-7" class="k b" transform="translate(396 2402)"><ellipse/><text>←</text></g>
<g id="k47-1" class="k b" transform="translate(84 2454)"><ellipse/><text>→</text></g><g id="k47-2" class="k b" transform="translate(136 2454)"><ellipse/><text>→</text></g><g id="k47-3" class="k d" transform="translate(188 2454)"><ellipse/><text>→</text></g><g id="k47-4" class="k b" transform="translate(240 2454)"><ellipse/><text>→</text></g><g id="k47-5" class="k b" transform="translate(292 2454)"><ellipse/><text>→</text></g><g id="k47-6" class="k d" transform="translate(344 2454)"><ellipse/><text>→</text></g><g id="k47-7" class="k b" transform="translate(396 2454)"><ellipse/><text>→</text></g>
<g id="k48-1" class="k b" transform="translate(84 2506)"><ellipse/><text>←</text></g><g id="k48-2" class="k b" transform="translate(136 2506)"><ellipse/><text>←</text></g><g id="k48-3" class="k b" transform="translate(188 2506)"><ellipse/><text>←</text></g><g id="k48-4" class="k b" transform="translate(240 2506)"><ellipse/><text>←</text></g><g id="k48-5" class="k b" transform="translate(292 2506)"><ellipse/><text>←</text></g><g id="k48-6" class="k b" transform="translate(344 2506)"><ellipse/><text>←</text></g><g id="k48-7" class="k b" transform="translate(396 2506)"><ellipse/><text>←</text></g>
</g>
<g id="end-labels" class="el">
<text x="34.5" y="66.3">C</text><text x="34.5" y="170.3">A</text><text x="34.5" y="430.3">B</text><text class="wt" x="34.5" y="690.3">D</text><text x="34.5" y="2406.3">A</text><text x="34.5" y="2510.3">C</text>
<text x="446" y="118.3">B</text><text class="wt" x="446" y="2458.3">D</text>
</g>
<g id="row-numbers-left" class="num nl">
<text x="21" y="66.5">1</text><text x="21" y="118.5">2</text><text x="21" y="170.5">3</text><text x="21" y="222.5">4</text><text x="21" y="274.5">5</text><text x="21" y="326.5">6</text><text x="21" y="378.5">7</text><text x="21" y="430.5">8</text><text x="21" y="482.5">9</text><text x="21" y="534.5">10</text><text x="21" y="586.5">11</text><text x="21" y="638.5">12</text><text x="21" y="690.5">13</text><text x="21" y="742.5">14</text><text x="21" y="794.5">15</text><text x="21" y="846.5">16</text><text x="21" y="898.5">17</text><text x="21" y="950.5">18</text><text x="21" y="1002.5">19</text><text x="21" y="1054.5">20</text><text x="21" y="1106.5">21</text><text x="21" y="1158.5">22</text><text x="21" y="1210.5">23</text><text x="21" y="1262.5">24</text><text x="21" y="1314.5">25</text><text x="21" y="1366.5">26</text><text x="21" y="1418.5">27</text><text x="21" y="1470.5">28</text><text x="21" y="1522.5">29</text><text x="21" y="1574.5">30</text><text x="21" y="1626.5">31</text><text x="21" y="1678.5">32</text><text x="21" y="1730.5">33</text><text x="21" y="1782.5">34</text><text x="21" y="1834.5">35</text><text x="21" y="1886.5">36</text><text x="21" y="1938.5">37</text><text x="21" y="1990.5">38</text><text x="21" y="2042.5">39</text><text x="21" y="2094.5">40</text><text x="21" y="2146.5">41</text><text x="21" y="2198.5">42</text><text x="21" y="2250.5">43</text><text x="21" y="2302.5">44</text><text x="21" y="2354.5">45</text><text x="21" y="2406.5">46</text><text x="21" y="2458.5">47</text><text x="21" y="2510.5">48</text>
</g>
<g id="row-numbers-right" class="num">
<text x="459" y="66.5">1</text><text x="459" y="118.5">2</text><text x="459" y="170.5">3</text><text x="459" y="222.5">4</text><text x="459" y="274.5">5</text><text x="459" y="326.5">6</text><text x="459" y="378.5">7</text><text x="459" y="430.5">8</text><text x="459" y="482.5">9</text><text x="459" y="534.5">10</text><text x="459" y="586.5">11</text><text x="459" y="638.5">12</text><text x="459" y="690.5">13</text><text x="459" y="742.5">14</text><text x="459" y="794.5">15</text><text x="459" y="846.5">16</text><text x="459" y="898.5">17</text><text x="459" y="950.5">18</text><text x="459" y="1002.5">19</text><text x="459" y="1054.5">20</text><text x="459" y="1106.5">21</text><text x="459" y="1158.5">22</text><text x="459" y="1210.5">23</text><text x="459" y="1262.5">24</text><text x="459" y="1314.5">25</text><text x="459" y="1366.5">26</text><text x="459" y="1418.5">27</text><text x="459" y="1470.5">28</text><text x="459" y="1522.5">29</text><text x="459" y="1574.5">30</text><text x="459" y="1626.5">31</text><text x="459" y="1678.5">32</text><text x="459" y="1730.5">33</text><text x="459" y="1782.5">34</text><text x="459" y="1834.5">35</text><text x="459" y="1886.5">36</text><text x="459" y="1938.5">37</text><text x="459" y="1990.5">38</text><text x="459" y="2042.5">39</text><text x="459" y="2094.5">40</text><text x="459" y="2146.5">41</text><text x="459" y="2198.5">42</text><text x="459" y="2250.5">43</text><text x="459" y="2302.5">44</text><text x="459" y="2354.5">45</text><text x="459" y="2406.5">46</text><text x="459" y="2458.5">47</text><text x="459" y="2510.5">48</text>
</g>
<text class="wm" x="240" y="1289" textLength="154" lengthAdjust="spacingAndGlyphs">BRACELETBOOK.COM</text>
</svg>
